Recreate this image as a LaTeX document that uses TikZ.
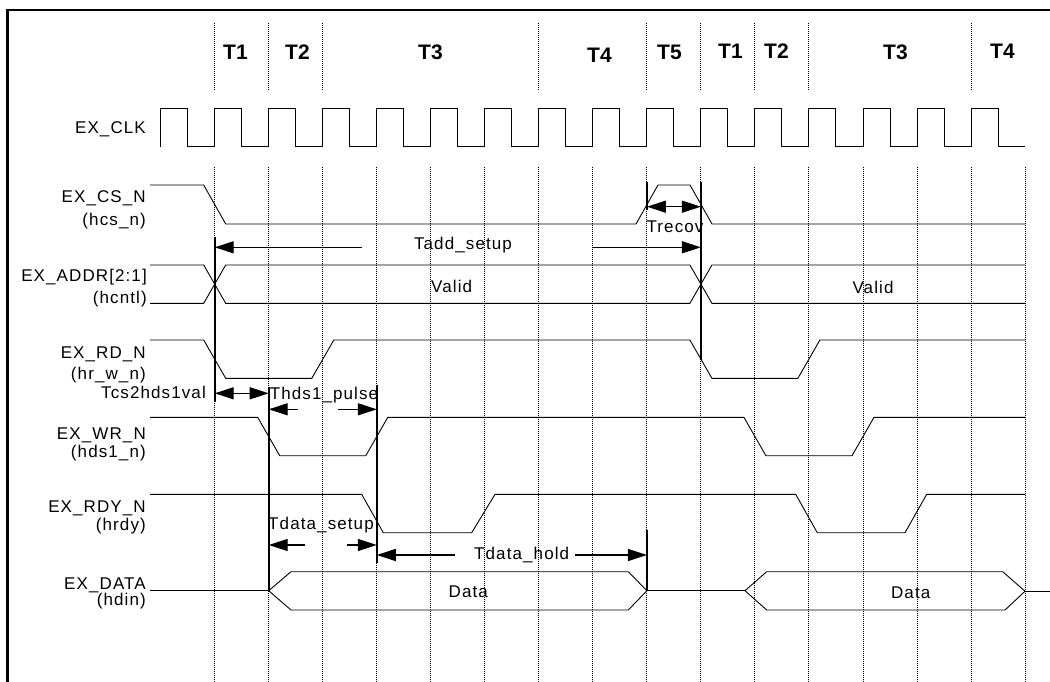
\documentclass[tikz,border=0pt]{standalone}
\usepackage{fontspec}
\setmainfont{Liberation Sans}
\newfontfamily\lblfont[LetterSpace=6.5]{Liberation Sans}
\usetikzlibrary{arrows.meta}
\tikzset{
  sig/.style={line width=0.9pt, line join=miter},
  gridline/.style={line width=0.9pt, dash pattern=on 1pt off 1pt},
  vbar/.style={line width=2pt},
  lbl/.style={font=\lblfont\fontsize{17}{17}\selectfont, inner sep=0pt},
  sname/.style={lbl, anchor=base east},
  clbl/.style={lbl, anchor=base},
  phase/.style={font=\bfseries\fontsize{21}{21}\selectfont, inner sep=0pt, anchor=base west},
  arr/.style={line width=1.3pt, -{Triangle[length=19pt,width=12pt]}}
}
\begin{document}
\begin{tikzpicture}[x=1pt,y=-1pt]
\useasboundingbox (0,0) rectangle (1050,682);
\clip (0,0) rectangle (1050,682);
\fill[white] (0,0) rectangle (1050,682);
% frame
\draw[line width=2.5pt] (7.5,700) -- (7.5,10) -- (1060,10);
% phase separators (top)
\foreach \k in {1,2,3,7,9,10,11,12,15}{
  \draw[gridline] ({160.7+54.02*\k},23) -- ({160.7+54.02*\k},90);
}
% body grid lines
\foreach \k in {1,...,16}{
  \draw[gridline] ({160.7+54.02*\k},166.7) -- ({160.7+54.02*\k},682);
}
% phase labels
\node[phase] (p1) at (223,60) {T1};
\node[phase] (p2) at (285,60) {T2};
\node[phase] (p3) at (418,60) {T3};
\node[phase] (p4) at (587,62.5) {T4};
\node[phase] (p5) at (657,59.3) {T5};
\node[phase] (p6) at (718,58.3) {T1};
\node[phase] (p7) at (764,58.3) {T2};
\node[phase] (p8) at (883,60) {T3};
\node[phase] (p9) at (990,58.3) {T4};
% signal names
\node[sname] (nclk) at (146,133.3) {EX\_CLK};
\node[sname] (ncs) at (146,203) {EX\_CS\_N};
\node[sname] (ncs2) at (146,225) {(hcs\_n)};
\node[sname] (nad) at (147,281) {EX\_ADDR[2:1]};
\node[sname] (nad2) at (147,303) {(hcntl)};
\node[sname] (nrd) at (146,358) {EX\_RD\_N};
\node[sname] (nrd2) at (146,379) {(hr\_w\_n)};
\node[sname] (nwr) at (146,439.5) {EX\_WR\_N};
\node[sname] (nwr2) at (146,457) {(hds1\_n)};
\node[sname] (nrdy) at (146,512.5) {EX\_RDY\_N};
\node[sname] (nrdy2) at (146,530) {(hrdy)};
\node[sname] (ndat) at (146,589) {EX\_DATA};
\node[sname] (ndat2) at (146,605.5) {(hdin)};
% clock
\draw[sig] (160.7,146.7)
  \foreach \k in {0,...,15}{
    -- ({160.7+54.02*\k},108.3) -- ({187.7+54.02*\k},108.3)
    -- ({187.7+54.02*\k},146.7) -- ({214.72+54.02*\k},146.7)
  };
% EX_CS_N
\draw[sig] (150,185) -- (203.7,185) -- (225.7,224) -- (636,224) -- (658,185)
  -- (690,185) -- (712,224) -- (1025,224);
% EX_ADDR
\draw[sig] (150,265) -- (203.7,265) -- (225.7,303.3) -- (689.9,303.3) -- (711.9,265) -- (1025,265);
\draw[sig] (150,303.3) -- (203.7,303.3) -- (225.7,265) -- (689.9,265) -- (711.9,303.3) -- (1025,303.3);
% EX_RD_N
\draw[sig] (150,340) -- (203.7,340) -- (225.7,378.3) -- (311.8,378.3) -- (333.8,340)
  -- (689.9,340) -- (711.9,378.3) -- (797.9,378.3) -- (819.9,340) -- (1025,340);
% EX_WR_N
\draw[sig] (150,417.3) -- (257.7,417.3) -- (279.7,455.7) -- (365.8,455.7) -- (387.8,417.3)
  -- (743.9,417.3) -- (765.9,455.7) -- (852,455.7) -- (874,417.3) -- (1025,417.3);
% EX_RDY_N
\draw[sig] (150,494.3) -- (361.7,494.3) -- (383.3,532.7) -- (471.7,532.7) -- (495,494.3)
  -- (795.7,494.3) -- (817.3,532.7) -- (905,532.7) -- (926.7,494.3) -- (1025,494.3);
% EX_DATA
\draw[sig] (150,590.7) -- (268.7,590.7);
\draw[sig] (268.7,590.7) -- (291,571.7) -- (628.3,571.7) -- (646.9,590.7)
  -- (628.3,610) -- (291,610) -- cycle;
\draw[sig] (646.9,590.7) -- (745,590.7);
\draw[sig] (745,590.7) -- (766.7,571.7) -- (1002.7,571.7) -- (1025,591.2)
  -- (1005,610) -- (766.7,610) -- cycle;
\draw[sig] (1025,591.2) -- (1050,591.2);
% bus / value labels
\node[clbl] (v1) at (451.7,292.7) {Valid};
\node[clbl] (v2) at (873,293) {Valid};
\node[clbl] (d1) at (468.3,597) {Data};
\node[clbl] (d2) at (910.7,598) {Data};
% timing markers
\draw[vbar] (214.7,236.7) -- (214.7,402);
\draw[vbar] (268.7,387) -- (268.7,591);
\draw[vbar] (376.8,385) -- (376.8,563);
\draw[vbar] (646.9,181.7) -- (646.9,210);
\draw[vbar] (646.9,530) -- (646.9,591);
\draw[vbar] (700.9,181.7) -- (700.9,360);
% Tadd_setup
\coordinate (tasA) at (361.7,247.3);
\coordinate (tasL) at (214.7,247.3);
\coordinate (tasB) at (593,247.3);
\coordinate (tasR) at (700.9,247.3);
\draw[arr] (tasA) -- (tasL);
\draw[arr] (tasB) -- (tasR);
\node[clbl] (tas) at (463,249) {Tadd\_setup};
% Trecov
\coordinate (trM) at (673.9,206.7);
\coordinate (trL) at (646.9,206.7);
\coordinate (trR) at (700.9,206.7);
\draw[arr] (trM) -- (trL);
\draw[arr] (trM) -- (trR);
\node[clbl] (trc) at (675,233) {Trecov};
% Tcs2hds1val
\coordinate (tcM) at (241.7,393.3);
\coordinate (tcL) at (214.7,393.3);
\coordinate (tcR) at (268.7,393.3);
\draw[arr] (tcM) -- (tcL);
\draw[arr] (tcM) -- (tcR);
\node[sname] (tcs) at (206,398) {Tcs2hds1val};
% Thds1_pulse
\coordinate (thA) at (298.3,409.3);
\coordinate (thL) at (268.7,409.3);
\coordinate (thB) at (338.3,409.3);
\coordinate (thR) at (376.8,409.3);
\draw[arr] (thA) -- (thL);
\draw[arr] (thB) -- (thR);
\node[clbl] (thp) at (324,399) {Thds1\_pulse};
% Tdata_setup
\coordinate (tdA) at (305,545);
\coordinate (tdL) at (268.7,545);
\coordinate (tdB) at (346.7,545);
\coordinate (tdR) at (376.8,545);
\draw[arr] (tdA) -- (tdL);
\draw[arr] (tdB) -- (tdR);
\node[clbl] (tds) at (321,529) {Tdata\_setup};
% Tdata_hold
\coordinate (thoA) at (455,555);
\coordinate (thoL) at (376.8,555);
\coordinate (thoB) at (575,555);
\coordinate (thoR) at (646.9,555);
\draw[arr] (thoA) -- (thoL);
\draw[arr] (thoB) -- (thoR);
\node[clbl] (tdh) at (521.7,559) {Tdata\_hold};
\end{tikzpicture}
\end{document}
